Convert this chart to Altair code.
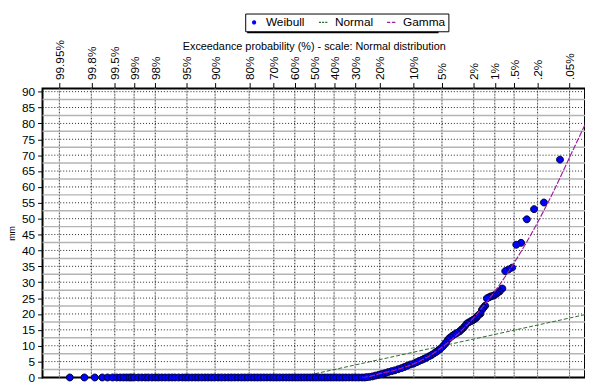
import json
from statistics import NormalDist
import altair as alt
import pandas as pd

ND = NormalDist()


def zq(p):
    # exceedance probability (%) -> standard normal variate
    return round(ND.inv_cdf(1 - p / 100.0), 6)


# ---- top axis (exceedance probability, normal scale) ----
tick_labels = ["99.95%", "99.8%", "99.5%", "99%", "98%", "95%", "90%", "80%", "70%",
               "60%", "50%", "40%", "30%", "20%", "10%", "5%", "2%", "1%", ".5%", ".2%", ".05%"]
tick_pct = [99.95, 99.8, 99.5, 99, 98, 95, 90, 80, 70, 60, 50, 40, 30, 20, 10, 5, 2, 1, 0.5, 0.2, 0.05]
tick_z = [zq(p) for p in tick_pct]

major_mm = [0, 5, 10, 15, 20, 25, 30, 35, 40, 45, 50, 55, 60, 65, 70, 75, 80, 85, 90]
minor_mm = [2.5, 7.5, 12.5, 17.5, 22.5, 27.5, 32.5, 37.5, 42.5, 47.5, 52.5, 57.5,
            62.5, 67.5, 72.5, 77.5, 82.5, 87.5]

# ---- Weibull plotting positions: zero-valued observations (exceedance %) ----
zero_pct = [99.92, 99.85, 99.77, 99.69, 99.62, 99.54, 99.46, 99.39, 99.31, 99.23, 99.15,
            99.08, 99.0, 98.85, 98.7, 98.55, 98.4, 98.2, 98.0, 97.8, 97.55, 97.3, 97.0,
            96.7, 96.4, 96.0, 95.6, 95.2, 94.8, 94.3, 93.8, 93.3, 92.7, 92.1, 91.5, 90.8,
            90.1, 89.3, 88.5, 87.6, 86.7, 85.8, 84.8, 83.8, 82.7, 81.6, 80.5, 79.3, 78.1,
            76.9, 75.6, 74.3, 73.0, 71.6, 70.2, 68.8, 67.3, 65.8, 64.3, 62.8, 61.3, 59.8,
            58.3, 56.8, 55.3, 53.8, 52.3, 50.8, 49.3, 47.8, 46.3, 44.8, 43.3, 41.8, 40.3,
            38.8, 37.3, 35.8, 34.3, 32.8, 31.3, 29.8, 28.4, 27.0, 25.8]
zero_mm = [0.0] * len(zero_pct)

# ---- Weibull plotting positions: non-zero observations ----
wet_pct = [0.0769, 0.1537, 0.2306, 0.3075, 0.3843, 0.4612, 0.5380, 0.6149, 0.6918, 0.7686,
           0.8455, 0.9224, 0.9992, 1.0761, 1.1530, 1.2298, 1.3067, 1.3836, 1.4604, 1.5373,
           1.614, 1.691, 1.768, 1.845, 1.922, 2.0, 2.075, 2.152, 2.306, 2.46, 2.61, 2.77,
           2.92, 3.07, 3.31, 3.54, 3.77, 4.0, 4.23, 4.46, 4.69, 4.92, 5.23, 5.53, 5.84,
           6.15, 6.53, 6.92, 7.38, 7.84, 8.30, 8.84, 9.38, 9.99, 10.76, 11.53, 12.30,
           13.07, 13.99, 14.99, 15.99, 17.06, 18.14, 19.22, 20.37, 21.52, 22.67, 23.83, 24.98]
wet_mm = [68.6, 55.1, 53.0, 49.8, 42.4, 41.8, 34.6, 34.0, 33.5, 28.0,
          27.1, 26.5, 26.0, 25.7, 25.5, 25.2, 24.9, 22.6, 22.0, 21.3,
          20.1, 19.8, 19.3, 18.8, 18.5, 18.2, 18.0, 17.8, 17.4, 17.0, 16.2, 15.5,
          15.0, 14.5, 14.0, 13.6, 13.1, 12.6, 12.0, 11.1, 10.3, 9.7, 9.0, 8.5, 8.0,
          7.6, 7.1, 6.7, 6.3, 5.9, 5.55, 5.2, 4.8, 4.4, 4.1, 3.7, 3.3,
          2.95, 2.6, 2.25, 2.0, 1.7, 1.35, 1.1, 0.85, 0.6, 0.35, 0.2, 0.1]

# ---- fitted distributions ----
normal_pct = [58.5, 50, 10, 1, 0.05, 0.0243]
normal_mm = [0.0, 1.14, 7.98, 13.56, 18.71, 19.78]

gamma_pct = [27, 25, 23, 20, 16, 13, 10, 7, 5, 3, 2, 1.5, 1, 0.5, 0.2, 0.1, 0.05, 0.0243]
gamma_mm = [0.0, 0.15, 0.5, 1.2, 2.0, 2.95, 4.3, 6.7, 9.5, 14.4, 18.8, 22.2, 27.1, 36.1,
            48.8, 58.9, 69.3, 79.5]

series_names = ["Weibull", "Normal", "Gamma"]
series_colors = ["#0000ff", "#2e6b2e", "#a0209e"]
series_shapes = [
    "M-0.5,0A0.5,0.5 0 1,0 0.5,0A0.5,0.5 0 1,0 -0.5,0Z",
    "M-1,-0.13H-0.5V0.13H-1Z M-0.25,-0.13H0.25V0.13H-0.25Z M0.5,-0.13H1V0.13H0.5Z",
    "M-1,-0.13H-0.2V0.13H-1Z M0.2,-0.13H1V0.13H0.2Z",
]

# ---- frames ----
pts = pd.DataFrame({
    "z": [zq(p) for p in zero_pct + wet_pct],
    "mm": zero_mm + wet_mm,
    "series": "Weibull",
})
norm_df = pd.DataFrame({"z": [zq(p) for p in normal_pct], "mm": normal_mm})
gam_df = pd.DataFrame({"z": [zq(p) for p in gamma_pct], "mm": gamma_mm})
vdf = pd.DataFrame({"z": tick_z})
hmin_df = pd.DataFrame({"mm": minor_mm})
hmaj_df = pd.DataFrame({"mm": major_mm[1:]})

label_expr = "%s[indexof(%s, datum.value)]" % (json.dumps(tick_labels), json.dumps(tick_z))

x_axis = alt.Axis(orient="top", values=tick_z, labelExpr=label_expr, labelAngle=-90,
                  labelAlign="left", labelBaseline="middle", labelFontSize=12,
                  labelPadding=3, labelOverlap=False, labelFlush=False, tickSize=6,
                  tickColor="black", domain=False, grid=False,
                  title="Exceedance probability  (%) - scale: Normal distribution",
                  titleFontSize=11, titleFontWeight="normal", titleY=-39.5,
                  titleBaseline="alphabetic")
y_axis = alt.Axis(values=major_mm, labelFontSize=12, labelPadding=3, tickSize=5,
                  tickColor="black", domain=False, grid=False, title="mm",
                  titleFontSize=9, titleFontWeight="normal", titleX=-31,
                  titleBaseline="middle")
X = alt.X("z:Q", scale=alt.Scale(domain=[-3.508, 3.49], nice=False, zero=False), axis=x_axis)
Y = alt.Y("mm:Q", scale=alt.Scale(domain=[0, 91], nice=False, zero=False), axis=y_axis)

legend = alt.Legend(title=None, orient="none", legendX=205.5, legendY=-76,
                    direction="horizontal", strokeColor="black", fillColor="white",
                    padding=3, labelFontSize=12, labelFont="Liberation Sans",
                    labelColor="black", symbolSize=72, symbolStrokeWidth=0,
                    columnPadding=12, labelOffset=6)

vgrid1 = alt.Chart(vdf).mark_rule(color="#c4c4c4", strokeWidth=1).encode(x=X)
vgrid2 = alt.Chart(vdf).mark_rule(color="#333333", strokeWidth=1, strokeDash=[1, 2]).encode(x=X)
hgrid1 = alt.Chart(hmin_df).mark_rule(color="#b4b4b4", strokeWidth=1.5).encode(y=Y)
hgrid2 = alt.Chart(hmaj_df).mark_rule(color="#222222", strokeWidth=1, strokeDash=[1, 2]).encode(y=Y)

normal_line = alt.Chart(norm_df).mark_line(color="#2e6b2e", strokeDash=[4, 2], strokeWidth=1,
                                           clip=True).encode(x=X, y=Y)
points = alt.Chart(pts).mark_point(filled=True, opacity=1, size=196, stroke="#00002a",
                                   strokeWidth=1).encode(
    x=X, y=Y,
    color=alt.Color("series:N", scale=alt.Scale(domain=series_names, range=series_colors), legend=legend),
    shape=alt.Shape("series:N", scale=alt.Scale(domain=series_names, range=series_shapes), legend=legend),
)
gamma_line = alt.Chart(gam_df).mark_line(color="#a0209e", strokeDash=[6, 1.5], strokeWidth=1.2,
                                         clip=True, interpolate="monotone").encode(x=X, y=Y)

# drop shadow behind the legend box
shadow = alt.Chart(pd.DataFrame({"k": [0]})).mark_rect(color="black").encode(
    x=alt.value(207.5), x2=alt.value(401.5), y=alt.value(-74), y2=alt.value(-56))

chart = alt.layer(vgrid1, vgrid2, hgrid1, hgrid2, normal_line, points, gamma_line, shadow).properties(
    width=550, height=293,
    padding={"left": 35, "top": 79, "right": 0, "bottom": 3},
    autosize=alt.AutoSizeParams(type="none"),
).configure(font="Liberation Sans").configure_view(stroke="black", strokeWidth=2).configure_axis(
    labelColor="black", titleColor="black")

chart.save("out.html", embed_options={"renderer": "svg", "actions": False})
